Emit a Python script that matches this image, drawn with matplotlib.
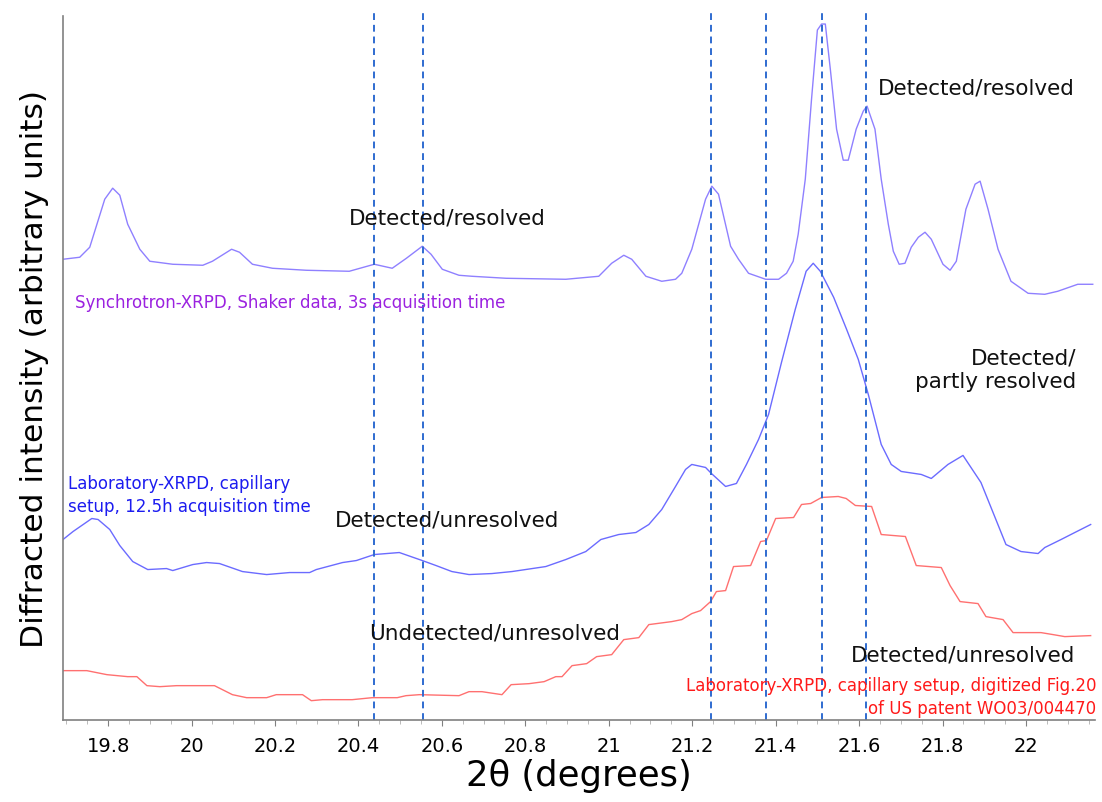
import matplotlib
matplotlib.use("Agg")
import matplotlib.pyplot as plt
from matplotlib.ticker import MultipleLocator

# Synchrotron-XRPD (Shaker data, 3s)
sync_x = [19.692, 19.732, 19.756, 19.792, 19.811, 19.828, 19.847, 19.876, 19.900, 19.955,
          20.027, 20.050, 20.096, 20.115, 20.146, 20.194, 20.275, 20.378, 20.438, 20.481,
          20.515, 20.553, 20.574, 20.601, 20.641, 20.672, 20.754, 20.897, 20.976, 21.007,
          21.036, 21.055, 21.089, 21.127, 21.160, 21.175, 21.199, 21.232, 21.247, 21.263,
          21.292, 21.311, 21.335, 21.376, 21.407, 21.426, 21.442, 21.454, 21.471, 21.486,
          21.500, 21.510, 21.519, 21.531, 21.546, 21.562, 21.574, 21.593, 21.610, 21.619,
          21.638, 21.653, 21.670, 21.682, 21.696, 21.710, 21.725, 21.742, 21.758, 21.773,
          21.801, 21.818, 21.833, 21.856, 21.878, 21.890, 21.909, 21.933, 21.964, 22.005,
          22.045, 22.076, 22.124, 22.160]
sync_y = [460, 462, 472, 520, 531, 524, 495, 470, 458, 455,
          454, 458, 470, 467, 455, 451, 449, 448, 455, 451,
          461, 473, 465, 450, 444, 443, 441, 440, 443, 456,
          464, 460, 443, 438, 440, 446, 470, 520, 533, 525,
          473, 460, 446, 440, 440, 446, 458, 485, 540, 620,
          689, 695, 695, 650, 590, 559, 559, 590, 608, 613,
          590, 540, 495, 468, 455, 456, 472, 482, 487, 480,
          455, 449, 458, 510, 535, 538, 510, 470, 438, 426,
          425, 428, 435, 435]

# Laboratory-XRPD, capillary, 12.5h
lab_x = [19.692, 19.716, 19.761, 19.776, 19.804, 19.828, 19.859, 19.895, 19.940, 19.955,
         20.003, 20.036, 20.067, 20.122, 20.180, 20.235, 20.283, 20.299, 20.362, 20.395,
         20.438, 20.498, 20.553, 20.586, 20.624, 20.665, 20.720, 20.768, 20.849, 20.897,
         20.945, 20.981, 21.024, 21.065, 21.096, 21.127, 21.160, 21.184, 21.199, 21.232,
         21.246, 21.280, 21.306, 21.330, 21.359, 21.383, 21.414, 21.447, 21.473, 21.490,
         21.507, 21.539, 21.570, 21.598, 21.622, 21.653, 21.677, 21.701, 21.749, 21.773,
         21.813, 21.849, 21.892, 21.952, 21.988, 22.029, 22.045, 22.084, 22.117, 22.155]
lab_y = [180, 188, 201, 200, 190, 174, 158, 150, 151, 149,
         155, 157, 156, 148, 145, 147, 147, 150, 157, 159,
         165, 167, 159, 154, 148, 145, 146, 148, 153, 160,
         168, 180, 185, 187, 195, 210, 233, 250, 255, 252,
         246, 233, 236, 255, 280, 305, 357, 410, 448, 456,
         448, 422, 390, 360, 325, 275, 255, 248, 245, 241,
         255, 264, 237, 175, 168, 166, 172, 180, 187, 195]

# Laboratory-XRPD, digitized patent figure
pat_x = [19.692, 19.749, 19.797, 19.847, 19.869, 19.893, 19.924, 19.964, 20.055, 20.098,
         20.132, 20.180, 20.203, 20.266, 20.287, 20.314, 20.385, 20.433, 20.493, 20.514,
         20.546, 20.641, 20.665, 20.696, 20.744, 20.766, 20.809, 20.845, 20.873, 20.888,
         20.912, 20.947, 20.971, 21.007, 21.036, 21.072, 21.096, 21.151, 21.175, 21.199,
         21.220, 21.244, 21.258, 21.280, 21.299, 21.340, 21.364, 21.378, 21.400, 21.443,
         21.462, 21.484, 21.510, 21.550, 21.569, 21.591, 21.630, 21.653, 21.711, 21.737,
         21.797, 21.818, 21.842, 21.885, 21.904, 21.945, 21.969, 22.036, 22.065, 22.093,
         22.155]
pat_y = [49, 49, 45, 43, 43, 34, 33, 34, 34, 25,
         22, 22, 25, 25, 19, 20, 20, 22, 22, 24,
         25, 24, 28, 28, 25, 35, 36, 38, 43, 43,
         54, 56, 63, 65, 80, 82, 95, 98, 100, 106,
         109, 118, 128, 129, 153, 154, 178, 179, 201, 202,
         215, 216, 222, 223, 221, 214, 213, 185, 183, 154,
         152, 134, 118, 116, 103, 100, 87, 87, 85, 83,
         84]

peak_lines = [20.438, 20.555, 21.246, 21.378, 21.510, 21.617]

fig = plt.figure(figsize=(11.02, 8.03), dpi=100)
ax = fig.add_axes([0.0572, 0.1025, 0.9363, 0.8763])

ax.plot(sync_x, sync_y, color="#8f80ff", lw=1.0)
ax.plot(lab_x, lab_y, color="#6b6bff", lw=1.0)
ax.plot(pat_x, pat_y, color="#ff7070", lw=1.0)
for xv in peak_lines:
    ax.axvline(xv, color="#2f6bd0", lw=1.4, ls=(0, (3.5, 2.5)), ymax=1.005, clip_on=False)

ax.set_xlim(19.692, 22.165)
ax.set_ylim(0, 703)

for side in ["top", "right"]:
    ax.spines[side].set_visible(False)
for side in ["left", "bottom"]:
    ax.spines[side].set_color("#808080")
    ax.spines[side].set_linewidth(1.2)

ax.set_yticks([])
ax.xaxis.set_minor_locator(MultipleLocator(0.05))
ax.set_xticks([19.8, 20.0, 20.2, 20.4, 20.6, 20.8, 21.0, 21.2, 21.4, 21.6, 21.8, 22.0])
ax.set_xticklabels(["19.8", "20", "20.2", "20.4", "20.6", "20.8", "21", "21.2",
                    "21.4", "21.6", "21.8", "22"])
ax.tick_params(axis="x", which="major", length=4, color="#808080", labelsize=14, pad=8)
ax.tick_params(axis="x", which="minor", length=3, color="#b0b0b0")

ax.set_xlabel("2θ (degrees)", fontsize=25.5, labelpad=2)
ax.set_ylabel("Diffracted intensity (arbitrary units)", fontsize=22.5, labelpad=10)

tk = dict(fontsize=15.5, color="#111111")
ax.text(20.613, 502, "Detected/resolved", ha="center", va="center", **tk)
ax.text(21.88, 632, "Detected/resolved", ha="center", va="center", **tk)
ax.text(22.12, 350, "Detected/\npartly resolved", ha="right", va="center",
        linespacing=1.25, **tk)
ax.text(20.613, 200, "Detected/unresolved", ha="center", va="center", **tk)
ax.text(20.727, 87, "Undetected/unresolved", ha="center", va="center", **tk)
ax.text(22.118, 65, "Detected/unresolved", ha="right", va="center", **tk)

ax.text(19.72, 417, "Synchrotron-XRPD, Shaker data, 3s acquisition time",
        ha="left", va="center", fontsize=12, color="#9b22e0")
ax.text(19.705, 225, "Laboratory-XRPD, capillary\nsetup, 12.5h acquisition time",
        ha="left", va="center", fontsize=12, color="#1c1cf0", linespacing=1.35)
ax.text(22.168, 23, "Laboratory-XRPD, capillary setup, digitized Fig.20\nof US patent WO03/004470",
        ha="right", va="center", fontsize=12, color="#ff1a1a", linespacing=1.35)

fig.savefig("out.png", dpi=100)
